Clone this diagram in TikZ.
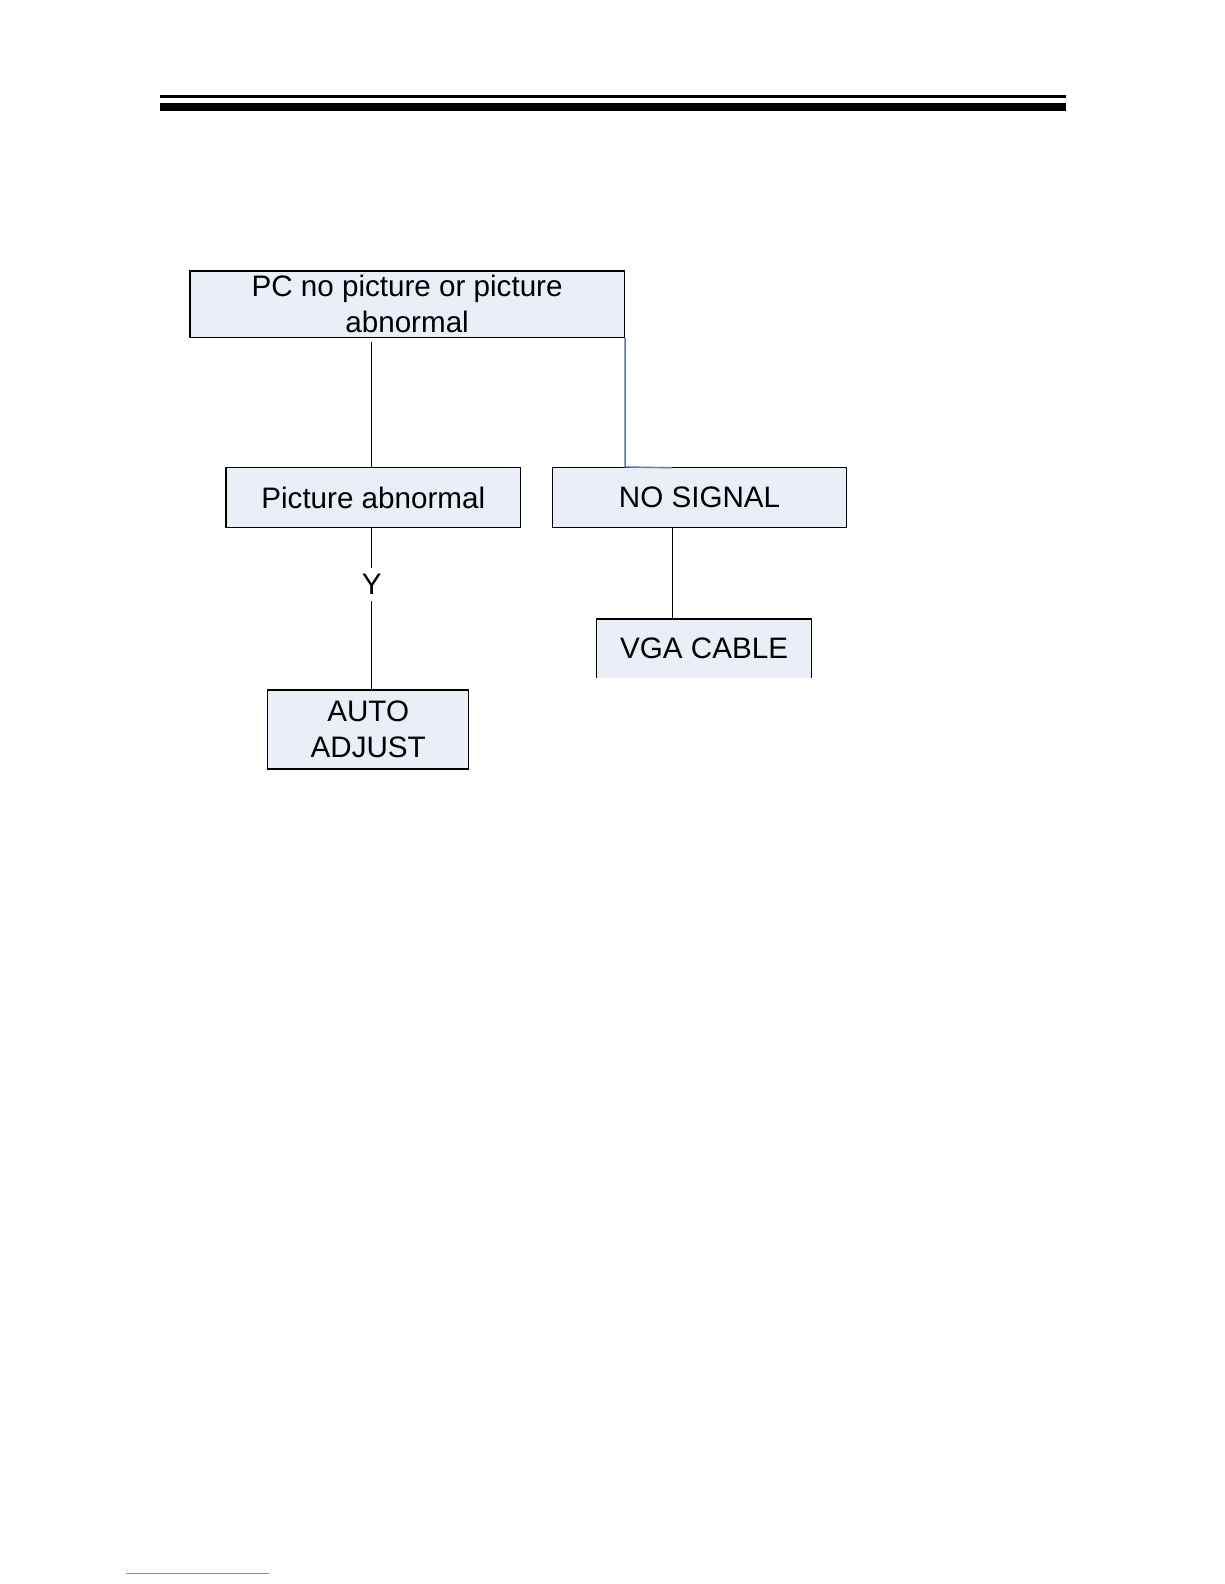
\documentclass[tikz,border=0pt]{standalone}
\usepackage{fontspec}
\setmainfont{Liberation Sans}
\usepackage{xcolor}
\usepackage{tikz}
\usetikzlibrary{calc}
\definecolor{boxfill}{HTML}{E9EEF7}
\definecolor{boxline}{HTML}{000000}
\definecolor{bluelink}{HTML}{5A78AA}
\definecolor{footlink}{HTML}{6F8FD0}
\tikzset{
  flowbox/.style={draw=boxline, line width=0.75pt, fill=boxfill, align=center,
    inner sep=0pt, font=\fontsize{14.8}{17.7}\selectfont},
  openbox/.style={fill=boxfill, align=center, inner sep=0pt,
    font=\fontsize{14.8}{17.7}\selectfont},
  joinline/.style={draw=black, line width=0.7pt},
  blueline/.style={draw=bluelink, line width=0.7pt},
  lab/.style={fill=white, inner sep=3pt, font=\fontsize{14.8}{17.7}\selectfont}
}
\begin{document}
\begin{tikzpicture}[x=0.505pt, y=-0.505pt]
  \useasboundingbox (0,0) rectangle (1212,1568);

  % header rules
  \fill[black] (158,94) rectangle (1055,97);
  \fill[black] (158,102) rectangle (1055,110);

  % boxes
  \node[flowbox, minimum width=217.2pt, minimum height=33.3pt] (top) at (403,301)
    {PC no picture or picture\\abnormal};
  \node[flowbox, minimum width=147pt, minimum height=29.8pt] (pic) at (369.5,492.5)
    {Picture abnormal};
  \node[flowbox, minimum width=147pt, minimum height=29.8pt] (nosig) at (692.5,492.5)
    {NO SIGNAL};
  \node[openbox, minimum width=107pt, minimum height=29.3pt] (vga) at (697,642)
    {VGA CABLE};
  \draw[joinline] (vga.south west) -- (vga.north west) -- (vga.north east) -- (vga.south east);
  \node[flowbox, minimum width=100.5pt, minimum height=39.4pt] (auto) at (364.5,722)
    {AUTO\\ADJUST};

  % connectors
  \coordinate (nsjoin) at (665,463);
  \draw[joinline] ([xshift=-0.76pt,yshift=-2pt]top.south -| pic.north) -- ([xshift=-0.76pt]pic.north);
  \draw[blueline] (top.south east) -- (top.south east |- nosig.north) -- (nsjoin);
  \draw[joinline] ([xshift=-13.4pt]nosig.south) -- ([xshift=-13.4pt]nosig.south |- vga.north);
  \draw[joinline] ([xshift=-0.76pt]pic.south) -- node[lab, pos=0.35] {Y}
    ([xshift=-0.76pt]pic.south |- auto.north);

  % footer link
  \draw[footlink, line width=0.5pt] (125,1558) -- (266,1558);
\end{tikzpicture}
\end{document}
